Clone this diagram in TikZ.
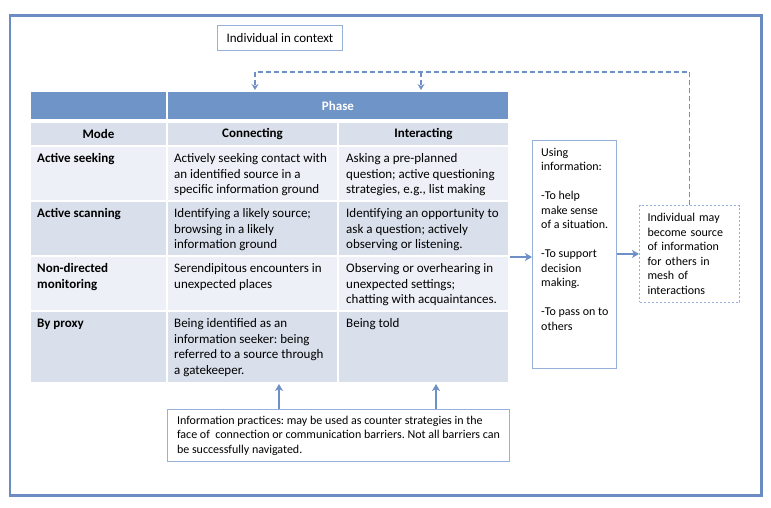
\documentclass[tikz,border=0pt]{standalone}
\usepackage{fontspec}
\setmainfont{Carlito}
\usetikzlibrary{positioning,arrows.meta}
\frenchspacing

\definecolor{frameblue}{HTML}{6A8CC3}
\definecolor{hdblue}{HTML}{6F94C7}
\definecolor{rowdark}{HTML}{D9DFEB}
\definecolor{rowlight}{HTML}{EDF0F6}
\definecolor{boxblue}{HTML}{95B0DA}
\definecolor{arrblue}{HTML}{6E90C6}

\begin{document}
\begin{tikzpicture}[
    x=1pt, y=-1pt,
    every node/.style={font=\fontsize{13}{15.5}\selectfont},
    bold/.style={font=\fontsize{13}{15.5}\selectfont\bfseries},
    small/.style={font=\fontsize{12}{14.5}\selectfont},
    cell/.style={draw=white, line width=2pt, anchor=north west, inner sep=0pt},
    txt/.style={inner sep=0pt, align=left},
    infobox/.style={draw=boxblue, line width=1pt, anchor=north west, inner sep=0pt},
    arr/.style={draw=arrblue, line width=2pt, -{Stealth[length=7pt, width=8pt, inset=2pt]}},
    dasharr/.style={draw=arrblue, line width=1.5pt, dash pattern=on 5pt off 3pt, -{Stealth[length=6pt, width=7pt, inset=2pt]}}
]
\useasboundingbox (0,0) rectangle (771,508);

% frame
\node[draw=frameblue, line width=2.5pt, anchor=north west, minimum width=751.5pt, minimum height=479.5pt] (frame) at (8.5,14.5) {};

% title
\node[infobox, minimum width=125pt, minimum height=25pt] (ctx) at (217,25) {Individual in context};

% header rows
\node[cell, fill=hdblue, minimum width=137pt, minimum height=29pt] (h1) at (29,90) {};
\node[cell, fill=hdblue, minimum width=342pt, minimum height=29pt, text=white, bold] (h2) at (166,90) {Phase};
\node[cell, fill=rowdark, minimum width=137pt, minimum height=24pt, bold] (m1) at (29,121) {Mode};
\node[cell, fill=rowdark, minimum width=171pt, minimum height=24pt, bold] (m2) at (166,121) {Connecting};
\node[cell, fill=rowdark, minimum width=171pt, minimum height=24pt, bold] (m3) at (337,121) {Interacting};

% table cells
\node[cell, fill=rowlight, minimum width=137pt, minimum height=55pt] (c11) at (29,145) {};
\node[cell, fill=rowlight, minimum width=171pt, minimum height=55pt] (c12) at (166,145) {};
\node[cell, fill=rowlight, minimum width=171pt, minimum height=55pt] (c13) at (337,145) {};
\node[cell, fill=rowdark, minimum width=137pt, minimum height=55pt] (c21) at (29,200) {};
\node[cell, fill=rowdark, minimum width=171pt, minimum height=55pt] (c22) at (166,200) {};
\node[cell, fill=rowdark, minimum width=171pt, minimum height=55pt] (c23) at (337,200) {};
\node[cell, fill=rowlight, minimum width=137pt, minimum height=55pt] (c31) at (29,255) {};
\node[cell, fill=rowlight, minimum width=171pt, minimum height=55pt] (c32) at (166,255) {};
\node[cell, fill=rowlight, minimum width=171pt, minimum height=55pt] (c33) at (337,255) {};
\node[cell, fill=rowdark, minimum width=137pt, minimum height=72pt] (c41) at (29,310) {};
\node[cell, fill=rowdark, minimum width=171pt, minimum height=72pt] (c42) at (166,310) {};
\node[cell, fill=rowdark, minimum width=171pt, minimum height=72pt] (c43) at (337,310) {};

% cell texts
\node[txt, bold, below right=8.5pt and 8pt of c11.north west] (t11) {Active seeking};
\node[txt, below right=8.5pt and 8pt of c12.north west] (t12) {Actively seeking contact with\\an identified source in a\\specific information ground};
\node[txt, below right=8.5pt and 9pt of c13.north west] (t13) {Asking a pre-planned\\question; active questioning\\strategies, e.g., list making};
\node[txt, bold, below right=8.5pt and 8pt of c21.north west] (t21) {Active scanning};
\node[txt, below right=8.5pt and 8pt of c22.north west] (t22) {Identifying a likely source;\\browsing in a likely\\information ground};
\node[txt, below right=8.5pt and 9pt of c23.north west] (t23) {Identifying an opportunity to\\ask a question; actively\\observing or listening.};
\node[txt, bold, below right=8.5pt and 8pt of c31.north west] (t31) {Non-directed\\monitoring};
\node[txt, below right=8.5pt and 8pt of c32.north west] (t32) {Serendipitous encounters in\\unexpected places};
\node[txt, below right=8.5pt and 9pt of c33.north west] (t33) {Observing or overhearing in\\unexpected settings;\\chatting with acquaintances.};
\node[txt, bold, below right=8.5pt and 8pt of c41.north west] (t41) {By proxy};
\node[txt, below right=8.5pt and 8pt of c42.north west] (t42) {Being identified as an\\information seeker: being\\referred to a source through\\a gatekeeper.};
\node[txt, below right=8.5pt and 9pt of c43.north west] (t43) {Being told};

% side boxes
\node[infobox, minimum width=84pt, minimum height=228pt] (use) at (532,140) {};
\node[txt, small, below right=8pt and 9pt of use.north west] (usetxt) {Using\\information:\\[14.5pt]-To help\\make sense\\of a situation.\\[14.5pt]-To support\\decision\\making.\\[14.5pt]-To pass on to\\others};
\node[infobox, draw=boxblue, dash pattern=on 2pt off 2pt, minimum width=100pt, minimum height=96pt, inner sep=8pt, text width=84pt, align=left, small] (src) at (639,205) {Individual may\\become source\\of information\\for others in\\mesh of\\interactions};

% bottom note
\node[infobox, minimum width=342pt, minimum height=52pt, inner sep=6pt, align=left, small] (note) at (167,409) {Information practices: may be used as counter strategies in the\\face of~ connection or communication barriers. Not all barriers can\\be successfully navigated.};

% arrows
\draw[arr] (c23.south east) -- (c23.south east -| use.west);
\draw[arr] (use.east |- src.west) -- (src.west);
\draw[arr] ([xshift=112pt]note.north west) coordinate (n1) -- (n1 |- c42.south);
\draw[arr] ([xshift=269pt]note.north west) coordinate (n2) -- (n2 |- c43.south);

% feedback loop
\coordinate (loopL) at (255,72);
\coordinate (loopM) at (421,72);
\draw[dasharr] (src.north) |- (loopL) -- (loopL |- h2.north);
\draw[dasharr] (loopM) -- (loopM |- h2.north);

\end{tikzpicture}
\end{document}
